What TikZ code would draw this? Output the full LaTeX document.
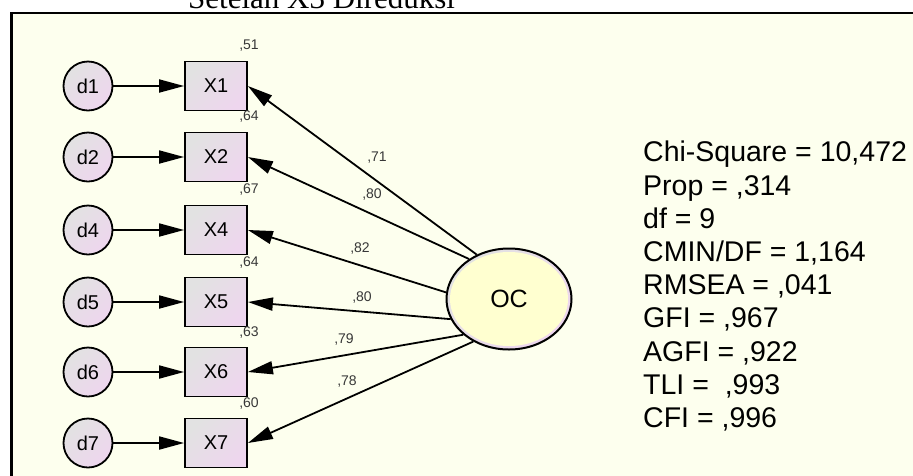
\documentclass[tikz,border=0pt]{standalone}
\usepackage{fontspec}
\setmainfont{Liberation Sans}
\newfontfamily\titlefont{Liberation Serif}
\usetikzlibrary{arrows.meta,shapes.geometric}
\definecolor{sheet}{RGB}{253,255,238}
\definecolor{objgray}{RGB}{226,226,226}
\definecolor{objpink}{RGB}{238,214,238}
\definecolor{latfill}{RGB}{255,255,208}
\definecolor{numgray}{RGB}{55,55,55}
\tikzset{
  obs/.style={draw,line width=1.8pt,minimum width=62pt,minimum height=49pt,
              inner sep=0pt,left color=objgray,right color=objpink,
              shading angle=45,font=\fontsize{20}{20}\selectfont},
  errc/.style={circle,draw,line width=1.8pt,minimum size=49pt,inner sep=0pt,
               left color=objgray,right color=objpink,shading angle=45,
               font=\fontsize{20}{20}\selectfont},
  lat/.style={ellipse,draw,line width=2pt,minimum width=125pt,minimum height=101pt,
              inner sep=0pt,left color=objgray,right color=objpink,shading angle=45,
              path picture={\fill[latfill] (path picture bounding box.center)
                ellipse [x radius=59pt,y radius=47pt];},
              font=\fontsize{25}{25}\selectfont},
  ldg/.style={font=\fontsize{14}{14}\selectfont,text=numgray,inner sep=0pt},
  arr/.style={-{Triangle[length=25pt,width=13pt]},line width=1.8pt},
}
\begin{document}
\begin{tikzpicture}[x=1pt,y=1pt]
\clip (0,0) rectangle (913,-475);
\fill[white] (0,0) rectangle (913,-475);
\node[anchor=base west,inner sep=0pt,font=\titlefont\fontsize{31}{31}\selectfont]
  (title) at (188,-8) {Setelah X3 Direduksi};
\draw[line width=2.5pt,fill=sheet] (11.5,-13) rectangle (940,-500);

% latent factor
\node[lat] (OC) at (509,-299) {OC};

% indicators, error terms and estimates
\foreach \ev/\ob/\yy/\ang/\ld/\lx/\ly/\rs in
  {d1/X1/86/126.5/71/377/158/51,  d2/X2/157/135.7/80/372/195/64,
   d4/X4/230/174.5/82/360/248/67, d5/X5/302/199/80/362/297/64,
   d6/X6/372/218/79/344/339/63,   d7/X7/443/230/78/347/381/60}{
  \node[obs] (\ob) at (216,-\yy) {\ob};
  \node[errc] (\ev) at (88,-\yy) {\ev};
  \node[ldg] (r\ob) at (249,-\yy+40) {,\rs};
  \draw[arr] (\ev) -- (\ob);
  \draw[arr] (OC.\ang) -- (\ob.east);
  \node[ldg] (w\ob) at (\lx,-\ly) {,\ld};
}

% fit indices
\node[anchor=north west,align=left,inner sep=0pt,
      font=\fontsize{28.5}{33.2}\selectfont] (fit) at (643,-141)
  {Chi-Square = 10,472\\Prop = ,314\\df = 9\\CMIN/DF = 1,164\\RMSEA = ,041\\
   GFI = ,967\\AGFI = ,922\\TLI =\ \ ,993\\CFI = ,996};
\end{tikzpicture}
\end{document}
